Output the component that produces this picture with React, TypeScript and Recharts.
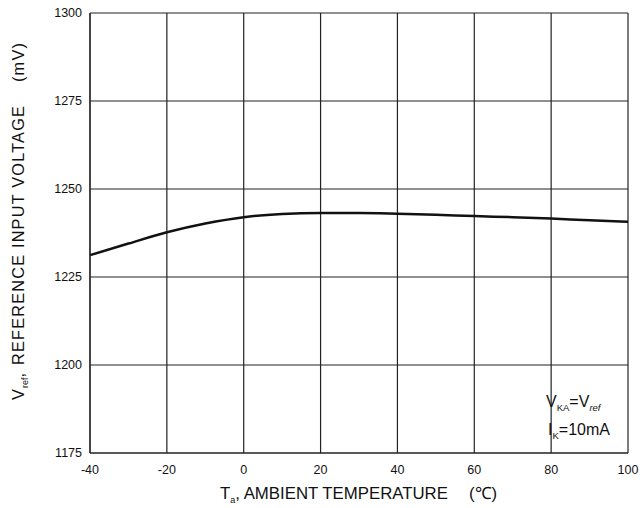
import React from 'react';
import { LineChart, Line, XAxis, YAxis, CartesianGrid } from 'recharts';

const temps = [-40, -30, -20, -10, 0, 10, 20, 30, 40, 50, 60, 70, 80, 90, 100];
const vref = [1231.2, 1234.5, 1237.7, 1240.2, 1242.0, 1242.9, 1243.2, 1243.2, 1243.0, 1242.7, 1242.3, 1242.0, 1241.6, 1241.1, 1240.7];
const xTicks = [-40, -20, 0, 20, 40, 60, 80, 100];
const yTicks = [1175, 1200, 1225, 1250, 1275, 1300];

const data = temps.map((t, i) => ({ t, v: vref[i] }));

const font = '"Liberation Sans", Arial, sans-serif';

// rotated frame: along-text coordinate is -y of the page
const YLabel = () => (
    <text transform="translate(24,0) rotate(-90)" fontFamily={font} fontSize={16.3} fill="#111" letterSpacing={1.2}>
        <tspan x={-400}>V</tspan>
        <tspan fontSize={9} dy={4} letterSpacing={0}>ref</tspan>
        <tspan dy={-4}>,</tspan>
        <tspan x={-365}>REFERENCE INPUT VOLTAGE</tspan>
        <tspan x={-82}>(mV)</tspan>
    </text>
);

const XLabel = () => (
    <text x={220} y={499} fontFamily={font} fontSize={16.8} fill="#111">
        T<tspan fontSize={9} dy={4}>a</tspan>
        <tspan dy={-4}>, AMBIENT TEMPERATURE</tspan>
        <tspan x={469}>(℃)</tspan>
    </text>
);

const Note = () => (
    <g fontFamily={font} fontSize={16} fill="#111">
        <text x={546} y={407}>
            V<tspan fontSize={9.5} dy={4}>KA</tspan>
            <tspan dy={-4}>=V</tspan>
            <tspan fontSize={9.5} dy={4} fontStyle="italic">ref</tspan>
        </text>
        <text x={548} y={435}>
            I<tspan fontSize={9.5} dy={4}>K</tspan>
            <tspan dy={-4}>=10mA</tspan>
        </text>
    </g>
);

export default function App() {
    return (
        <div style={{ position: 'absolute', left: 0, top: 0, width: 640, height: 508, background: '#fff' }}>
            <LineChart
                width={640}
                height={508}
                data={data}
                margin={{ top: 13, right: 12, bottom: 25, left: 0 }}
            >
                <CartesianGrid stroke="#222" strokeWidth={1.2} />
                <XAxis
                    dataKey="t"
                    type="number"
                    domain={[-40, 100]}
                    ticks={xTicks}
                    height={30}
                    tickLine={false}
                    axisLine={{ stroke: '#222', strokeWidth: 1.2 }}
                    tick={{ fontSize: 12.5, fill: '#111', fontFamily: font }}
                    tickMargin={6}
                />
                <YAxis
                    type="number"
                    domain={[1175, 1300]}
                    ticks={yTicks}
                    width={90}
                    tickLine={false}
                    axisLine={{ stroke: '#222', strokeWidth: 1.2 }}
                    tick={{ fontSize: 12.5, fill: '#111', fontFamily: font }}
                    tickMargin={2}
                />
                <Line
                    type="monotone"
                    dataKey="v"
                    stroke="#111"
                    strokeWidth={2.5}
                    dot={false}
                    isAnimationActive={false}
                />
                <YLabel />
                <XLabel />
                <Note />
            </LineChart>
        </div>
    );
}
